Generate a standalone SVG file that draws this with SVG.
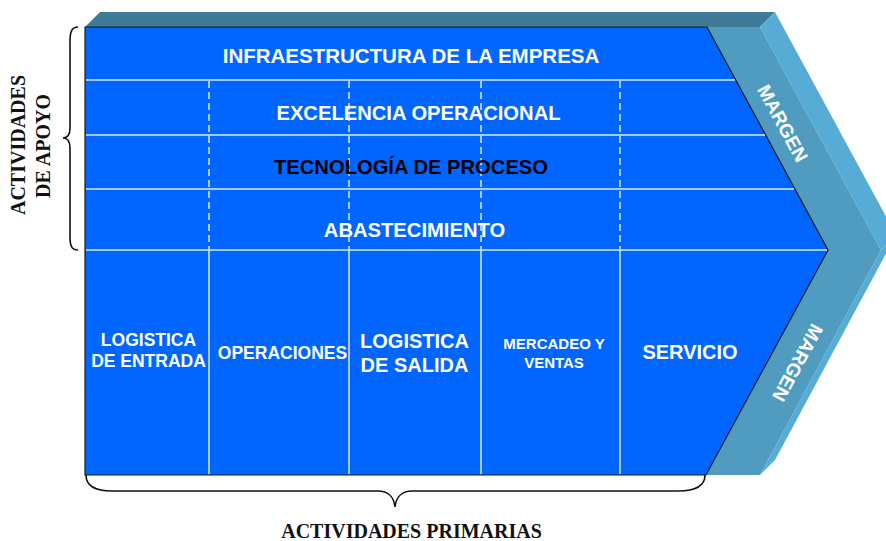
<svg xmlns="http://www.w3.org/2000/svg" width="886" height="541" viewBox="0 0 886 541">
  <style>
    .w { fill: #ffffff; font-family: "Liberation Sans", Arial, sans-serif; font-weight: bold; text-anchor: middle; }
    .k { fill: #000000; font-family: "Liberation Sans", Arial, sans-serif; font-weight: bold; text-anchor: middle; }
    .t { fill: #111111; font-family: "Liberation Serif", "Times New Roman", serif; font-weight: bold; text-anchor: middle; font-size: 20px; }
    .hl { stroke: #dfe8ff; stroke-width: 1.5; fill: none; }
    .vd { stroke: #dfe8ff; stroke-width: 1.5; stroke-dasharray: 7 4; fill: none; }
    .vs { stroke: #dfe8ff; stroke-width: 1.5; fill: none; }
    .brace { stroke: #111111; stroke-width: 1.6; fill: none; }
  </style>
  <rect width="886" height="541" fill="#ffffff"/>

  <g id="margin-3d">
    <polygon points="85,27 100,12 775,12 760,27" fill="#3f7b96"/>
    <polygon points="760,27 775,12 896,235 881,250" fill="#57acd6"/>
    <polygon points="881,250 896,235 775,460 760,475" fill="#57acd6"/>
    <polygon points="707,27 760,27 881,250 760,475 706,475 828,250" fill="#4f9cc0"/>
  </g>

  <g id="value-chain">
    <polygon points="85,27 707,27 828,250 706,475 85,475" fill="#0066ff" stroke="#1a1a1a" stroke-width="1.2"/>
  </g>

  <g id="grid">
    <line class="hl" x1="86" y1="80" x2="735" y2="80"/>
    <line class="hl" x1="86" y1="135" x2="765" y2="135"/>
    <line class="hl" x1="86" y1="189" x2="794" y2="189"/>
    <line class="hl" x1="86" y1="250" x2="827" y2="250"/>
    <line class="vd" x1="209" y1="81" x2="209" y2="250"/>
    <line class="vd" x1="349" y1="81" x2="349" y2="250"/>
    <line class="vd" x1="481" y1="81" x2="481" y2="250"/>
    <line class="vd" x1="620" y1="81" x2="620" y2="250"/>
    <line class="vs" x1="209" y1="250" x2="209" y2="474"/>
    <line class="vs" x1="349" y1="250" x2="349" y2="474"/>
    <line class="vs" x1="481" y1="250" x2="481" y2="474"/>
    <line class="vs" x1="620" y1="250" x2="620" y2="474"/>
  </g>

  <g id="support-activities">
    <text class="w" x="411" y="63" font-size="20.5">INFRAESTRUCTURA DE LA EMPRESA</text>
    <text class="w" x="418.5" y="120" font-size="20.2">EXCELENCIA OPERACIONAL</text>
    <text class="k" x="411" y="174" font-size="20.2">TECNOLOGÍA DE PROCESO</text>
    <text class="w" x="414.5" y="237" font-size="20.2">ABASTECIMIENTO</text>
  </g>

  <g id="primary-activities">
    <text class="w" x="148.5" y="346" font-size="17.5">LOGISTICA</text>
    <text class="w" x="148.5" y="367" font-size="17.5">DE ENTRADA</text>
    <text class="w" x="282.5" y="359" font-size="17.5">OPERACIONES</text>
    <text class="w" x="414.5" y="348" font-size="20">LOGISTICA</text>
    <text class="w" x="414.5" y="372" font-size="20">DE SALIDA</text>
    <text class="w" x="554" y="349" font-size="15">MERCADEO Y</text>
    <text class="w" x="554" y="368" font-size="15">VENTAS</text>
    <text class="w" x="690" y="359" font-size="20">SERVICIO</text>
  </g>

  <g id="margin-labels">
    <text class="w" font-size="19" transform="translate(783,123) rotate(61.6)" y="7">MARGEN</text>
    <text class="w" font-size="19" transform="translate(798,363) rotate(118.4)" y="7">MARGEN</text>
  </g>

  <g id="connectors">
    <path class="brace" d="M78,27 C71,27 70,33 70,42 L70,128 C70,134 68,138 63,138 C68,138 70,142 70,148 L70,236 C70,245 71,250 78,250"/>
    <path class="brace" d="M86,475 C86,486 95,491 112,491 L378,491 C388,491 394,497 395,507 C396,497 402,491 412,491 L678,491 C695,491 705,486 705,475"/>
  </g>

  <g id="axis-labels">
    <text class="t" transform="translate(25,145) rotate(-90)">ACTIVIDADES</text>
    <text class="t" transform="translate(50,146) rotate(-90)">DE APOYO</text>
    <text class="t" x="411.5" y="538" font-size="20.5">ACTIVIDADES PRIMARIAS</text>
  </g>
</svg>
